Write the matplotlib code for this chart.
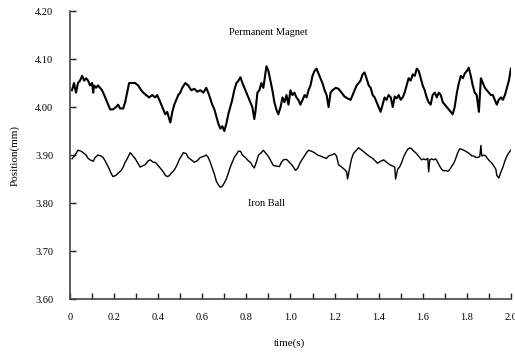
import matplotlib
matplotlib.use('Agg')
import matplotlib.pyplot as plt
from matplotlib.ticker import MultipleLocator

plt.rcParams['font.family'] = ['Liberation Serif', 'DejaVu Serif']

# Permanent Magnet trace (time in s, position in mm)
magnet_t = [0.009, 0.018, 0.027, 0.036, 0.045, 0.055, 0.064, 0.073, 0.082, 0.091,
            0.100, 0.105, 0.109, 0.118, 0.127, 0.136, 0.145, 0.155, 0.164, 0.173,
            0.182, 0.195, 0.209, 0.218, 0.227, 0.241, 0.250, 0.259, 0.268, 0.282,
            0.295, 0.309, 0.323, 0.332, 0.345, 0.359, 0.373, 0.386, 0.395, 0.405,
            0.414, 0.423, 0.432, 0.441, 0.450, 0.455, 0.464, 0.473, 0.482, 0.491,
            0.500, 0.509, 0.523, 0.536, 0.550, 0.564, 0.577, 0.591, 0.605, 0.618,
            0.627, 0.636, 0.645, 0.655, 0.664, 0.673, 0.682, 0.691, 0.700, 0.709,
            0.718, 0.727, 0.736, 0.745, 0.755, 0.764, 0.773, 0.782, 0.791, 0.800,
            0.809, 0.818, 0.827, 0.836, 0.841, 0.850, 0.859, 0.868, 0.877, 0.886,
            0.891, 0.900, 0.909, 0.918, 0.927, 0.936, 0.945, 0.955, 0.964, 0.973,
            0.982, 0.991, 1.000, 1.009, 1.018, 1.027, 1.036, 1.045, 1.055, 1.064,
            1.073, 1.082, 1.091, 1.100, 1.109, 1.118, 1.127, 1.136, 1.145, 1.155,
            1.164, 1.173, 1.182, 1.191, 1.205, 1.218, 1.232, 1.245, 1.259, 1.273,
            1.282, 1.291, 1.300, 1.309, 1.318, 1.327, 1.336, 1.345, 1.355, 1.364,
            1.373, 1.382, 1.391, 1.400, 1.409, 1.418, 1.427, 1.436, 1.445, 1.455,
            1.464, 1.473, 1.482, 1.491, 1.500, 1.509, 1.518, 1.527, 1.536, 1.545,
            1.555, 1.564, 1.573, 1.582, 1.591, 1.600, 1.609, 1.618, 1.627, 1.636,
            1.645, 1.655, 1.664, 1.673, 1.682, 1.691, 1.700, 1.709, 1.718, 1.727,
            1.736, 1.745, 1.755, 1.764, 1.773, 1.782, 1.791, 1.800, 1.809, 1.818,
            1.827, 1.836, 1.845, 1.855, 1.864, 1.873, 1.882, 1.891, 1.900, 1.909,
            1.918, 1.927, 1.936, 1.945, 1.955, 1.964, 1.973, 1.982, 1.991, 2.000]
magnet_pos = [4.035, 4.050, 4.030, 4.050, 4.055, 4.065, 4.055, 4.060, 4.055, 4.045,
              4.050, 4.030, 4.045, 4.040, 4.045, 4.040, 4.035, 4.025, 4.015, 4.005,
              3.995, 3.995, 4.000, 4.005, 3.997, 3.997, 4.010, 4.030, 4.050, 4.050,
              4.050, 4.045, 4.035, 4.030, 4.025, 4.020, 4.025, 4.020, 4.025, 4.015,
              4.005, 3.995, 3.985, 3.990, 3.975, 3.968, 3.990, 4.005, 4.015, 4.025,
              4.030, 4.040, 4.050, 4.045, 4.035, 4.038, 4.032, 4.035, 4.030, 4.040,
              4.030, 4.018, 4.005, 3.995, 3.980, 3.965, 3.955, 3.960, 3.950, 3.965,
              3.985, 4.000, 4.015, 4.035, 4.050, 4.055, 4.062, 4.050, 4.040, 4.030,
              4.020, 4.010, 4.000, 3.975, 3.990, 4.030, 4.035, 4.050, 4.040, 4.070,
              4.085, 4.075, 4.055, 4.035, 4.010, 3.995, 3.985, 4.000, 4.020, 4.010,
              4.025, 4.005, 4.035, 4.025, 4.030, 4.020, 4.015, 4.005, 4.015, 4.025,
              4.020, 4.035, 4.045, 4.065, 4.075, 4.080, 4.070, 4.060, 4.050, 4.035,
              4.025, 4.000, 4.030, 4.035, 4.040, 4.038, 4.030, 4.022, 4.018, 4.015,
              4.025, 4.035, 4.045, 4.050, 4.055, 4.068, 4.072, 4.060, 4.045, 4.040,
              4.025, 4.020, 4.010, 4.000, 3.990, 4.005, 4.020, 4.015, 4.025, 4.020,
              4.000, 4.022, 4.018, 4.025, 4.015, 4.020, 4.030, 4.045, 4.060, 4.055,
              4.068, 4.065, 4.080, 4.075, 4.060, 4.045, 4.035, 4.020, 4.010, 4.005,
              4.025, 4.030, 4.020, 4.030, 4.025, 4.010, 4.005, 4.000, 3.995, 3.990,
              3.985, 4.000, 4.030, 4.050, 4.065, 4.060, 4.070, 4.075, 4.082, 4.065,
              4.045, 4.030, 4.025, 3.990, 4.060, 4.050, 4.040, 4.035, 4.030, 4.025,
              4.025, 4.015, 4.005, 4.015, 4.020, 4.015, 4.025, 4.040, 4.055, 4.080]

# Iron Ball trace
iron_t = [0.009, 0.023, 0.036, 0.050, 0.059, 0.073, 0.082, 0.091, 0.105, 0.114,
          0.127, 0.141, 0.150, 0.159, 0.168, 0.177, 0.186, 0.195, 0.209, 0.218,
          0.232, 0.241, 0.250, 0.259, 0.273, 0.282, 0.295, 0.309, 0.318, 0.332,
          0.341, 0.355, 0.364, 0.377, 0.386, 0.400, 0.409, 0.423, 0.432, 0.441,
          0.450, 0.459, 0.468, 0.477, 0.486, 0.495, 0.505, 0.514, 0.527, 0.536,
          0.550, 0.564, 0.577, 0.591, 0.605, 0.618, 0.627, 0.636, 0.645, 0.655,
          0.664, 0.673, 0.682, 0.691, 0.700, 0.709, 0.718, 0.727, 0.736, 0.745,
          0.755, 0.764, 0.773, 0.782, 0.795, 0.809, 0.818, 0.827, 0.836, 0.845,
          0.855, 0.868, 0.877, 0.886, 0.895, 0.905, 0.914, 0.923, 0.936, 0.950,
          0.959, 0.968, 0.982, 0.995, 1.009, 1.023, 1.032, 1.045, 1.059, 1.073,
          1.082, 1.095, 1.109, 1.123, 1.136, 1.150, 1.164, 1.173, 1.186, 1.200,
          1.209, 1.218, 1.232, 1.245, 1.255, 1.259, 1.268, 1.277, 1.286, 1.295,
          1.309, 1.318, 1.332, 1.345, 1.359, 1.373, 1.386, 1.395, 1.409, 1.423,
          1.436, 1.450, 1.464, 1.473, 1.477, 1.486, 1.495, 1.505, 1.514, 1.523,
          1.532, 1.541, 1.550, 1.559, 1.568, 1.577, 1.586, 1.595, 1.605, 1.614,
          1.623, 1.627, 1.632, 1.641, 1.650, 1.659, 1.668, 1.677, 1.686, 1.695,
          1.705, 1.714, 1.723, 1.732, 1.741, 1.750, 1.759, 1.768, 1.777, 1.786,
          1.795, 1.805, 1.814, 1.823, 1.832, 1.841, 1.850, 1.859, 1.864, 1.868,
          1.877, 1.886, 1.895, 1.905, 1.914, 1.923, 1.932, 1.936, 1.945, 1.955,
          1.964, 1.973, 1.982, 1.991, 2.000]
iron_pos = [3.892, 3.900, 3.910, 3.908, 3.905, 3.900, 3.893, 3.890, 3.887, 3.895,
            3.900, 3.898, 3.895, 3.888, 3.880, 3.872, 3.862, 3.855, 3.858, 3.862,
            3.868, 3.875, 3.885, 3.892, 3.905, 3.900, 3.893, 3.882, 3.875, 3.878,
            3.880, 3.888, 3.890, 3.885, 3.885, 3.878, 3.873, 3.865, 3.858, 3.855,
            3.857, 3.862, 3.866, 3.872, 3.880, 3.890, 3.898, 3.905, 3.903, 3.895,
            3.890, 3.885, 3.888, 3.895, 3.897, 3.900, 3.895, 3.885, 3.873, 3.860,
            3.845, 3.838, 3.833, 3.835, 3.842, 3.850, 3.862, 3.875, 3.885, 3.895,
            3.902, 3.908, 3.908, 3.900, 3.895, 3.888, 3.885, 3.878, 3.873, 3.885,
            3.900, 3.905, 3.910, 3.905, 3.900, 3.893, 3.885, 3.878, 3.877, 3.876,
            3.885, 3.890, 3.891, 3.885, 3.878, 3.868, 3.872, 3.885, 3.895, 3.905,
            3.910, 3.908, 3.905, 3.900, 3.898, 3.895, 3.893, 3.898, 3.900, 3.903,
            3.898, 3.880, 3.875, 3.870, 3.865, 3.850, 3.872, 3.892, 3.903, 3.908,
            3.915, 3.912, 3.907, 3.902, 3.897, 3.893, 3.887, 3.883, 3.887, 3.890,
            3.885, 3.880, 3.877, 3.875, 3.850, 3.870, 3.875, 3.885, 3.897, 3.905,
            3.912, 3.915, 3.913, 3.908, 3.905, 3.900, 3.895, 3.890, 3.892, 3.890,
            3.893, 3.865, 3.890, 3.892, 3.890, 3.892, 3.885, 3.877, 3.870, 3.867,
            3.868, 3.866, 3.870, 3.877, 3.883, 3.893, 3.905, 3.913, 3.912, 3.910,
            3.908, 3.905, 3.902, 3.898, 3.898, 3.895, 3.895, 3.897, 3.920, 3.898,
            3.900, 3.898, 3.892, 3.887, 3.883, 3.877, 3.870, 3.858, 3.852, 3.865,
            3.875, 3.888, 3.898, 3.905, 3.910]

x_ticks = [0, 0.2, 0.4, 0.6, 0.8, 1.0, 1.2, 1.4, 1.6, 1.8, 2.0]
x_labels = ['0', '0.2', '0.4', '0.6', '0.8', '1.0', '1.2', '1.4', '1.6', '1.8', '2.0']
y_ticks = [3.60, 3.70, 3.80, 3.90, 4.00, 4.10, 4.20]

fig = plt.figure(figsize=(5.15, 3.56), dpi=100)
ax = fig.add_axes([0.136, 0.160, 0.856, 0.809])

ax.plot(magnet_t, magnet_pos, color='black', lw=1.5)
ax.plot(iron_t, iron_pos, color='black', lw=1.0)

ax.set_xlim(0, 2.0)
ax.set_ylim(3.60, 4.20)
ax.set_xticks(x_ticks)
ax.set_xticklabels(x_labels)
ax.xaxis.set_minor_locator(MultipleLocator(0.1))
ax.set_yticks(y_ticks)
ax.set_yticklabels(['%.2f' % v for v in y_ticks])

for s in ['top', 'right']:
    ax.spines[s].set_visible(False)
for s in ['left', 'bottom']:
    ax.spines[s].set_color('#444444')
    ax.spines[s].set_linewidth(1.2)

ax.tick_params(axis='both', which='both', direction='in', length=4, width=1.0,
               color='#222222', labelsize=7.5)
ax.tick_params(axis='x', pad=10)
ax.tick_params(axis='y', pad=12)

ax.text(0.9, 4.155, 'Permanent Magnet', fontsize=7.5, ha='center', va='center')
ax.text(0.89, 3.80, 'Iron Ball', fontsize=7.5, ha='center', va='center')

# axis titles placed in figure coords so they sit where the original has them
fig.text(290 / 515, 1 - 343 / 356, 'time(s)', fontsize=8, ha='center', va='center')
fig.text(15 / 515, 1 - 155 / 356, 'Position(mm)', fontsize=8, ha='center',
         va='center', rotation=90)

plt.savefig('out.png', dpi=100)
